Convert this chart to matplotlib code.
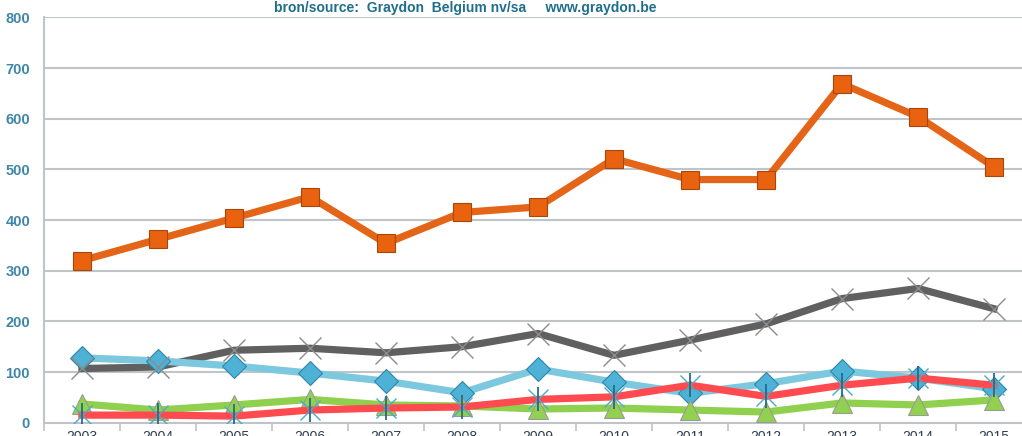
import matplotlib
matplotlib.use("Agg")
import matplotlib.pyplot as plt
import numpy as np

years = ["2003", "2004", "2005", "2006", "2007", "2008", "2009",
         "2010", "2011", "2012", "2013", "2014", "2015"]
orange = [320, 362, 404, 446, 354, 415, 426, 521, 480, 480, 669, 604, 505]
gray = [107, 110, 143, 147, 138, 150, 176, 133, 163, 195, 245, 265, 225]
blue = [128, 122, 112, 98, 82, 59, 106, 80, 58, 77, 102, 88, 67]
red = [15, 15, 13, 25, 29, 31, 46, 51, 74, 52, 74, 88, 74]
green = [37, 25, 35, 46, 35, 33, 27, 29, 25, 21, 39, 35, 45]
yticks = [0, 100, 200, 300, 400, 500, 600, 700, 800]
title = "bron/source:  Graydon  Belgium nv/sa     www.graydon.be"

fam = ["Liberation Sans", "DejaVu Sans"]

fig = plt.figure(figsize=(10.22, 4.36), dpi=100)
ax = fig.add_axes([0.043, 0.0305, 0.9668, 0.9295])
x = np.arange(len(years))

grid_c = "#BEC4C8"
for y in yticks[1:]:
    ax.axhline(y, color=grid_c, lw=1.5, zorder=0)

lw = 5.2
# orange squares
ax.plot(x, orange, color="#E46517", lw=lw, zorder=3,
        marker="s", ms=13, mfc="#E8620F", mec="#A8470A", mew=0.8)
# gray X
ax.plot(x, gray, color="#606060", lw=lw, zorder=3)
ax.plot(x, gray, ls="none", marker="x", ms=16, mec="#8C8C8C", mew=1.0, zorder=4)
# blue diamonds
ax.plot(x, blue, color="#7CC8DE", lw=lw, zorder=3,
        marker="D", ms=12, mfc="#4EB2D6", mec="#2E86A8", mew=0.8)
# red asterisk
ax.plot(x, red, color="#FF4B4F", lw=lw, zorder=4)
ax.plot(x, red, ls="none", marker="x", ms=14, mec="#4BACC6", mew=1.0, zorder=5)
ax.plot(x, red, ls="none", marker="|", ms=17, mec="#1F6E8C", mew=1.3, zorder=5)
# green triangles
ax.plot(x, green, color="#8FD14F", lw=lw, zorder=3,
        marker="^", ms=14, mfc="#92D050", mec="#9A9A9A", mew=0.8)

ax.set_xlim(-0.5, 12.5)
ax.set_ylim(0, 800)
ax.set_yticks(yticks)
ax.set_yticklabels([str(v) for v in yticks])
ax.set_xticks(x)
ax.set_xticklabels(years)
ax.set_xticks(np.arange(-0.5, 13, 1), minor=True)

for s in ["top", "right"]:
    ax.spines[s].set_visible(False)
for s in ["left", "bottom"]:
    ax.spines[s].set_color(grid_c)
    ax.spines[s].set_linewidth(1.5)

ax.tick_params(axis="y", length=0, pad=10, labelsize=10.5, labelcolor="#3E86AA")
for t in ax.get_yticklabels():
    t.set_fontweight("bold")
    t.set_family(fam)
ax.tick_params(axis="x", which="major", length=0, pad=5, labelsize=10,
               labelcolor="#333F4F")
ax.tick_params(axis="x", which="minor", length=6, color=grid_c, width=1.2)
for t in ax.get_xticklabels():
    t.set_family(fam)

fig.text(0.455, 0.981, title, ha="center", va="center", fontsize=10,
         fontweight="bold", color="#1F6E8C", family=fam)

fig.savefig("out.png", dpi=100)
